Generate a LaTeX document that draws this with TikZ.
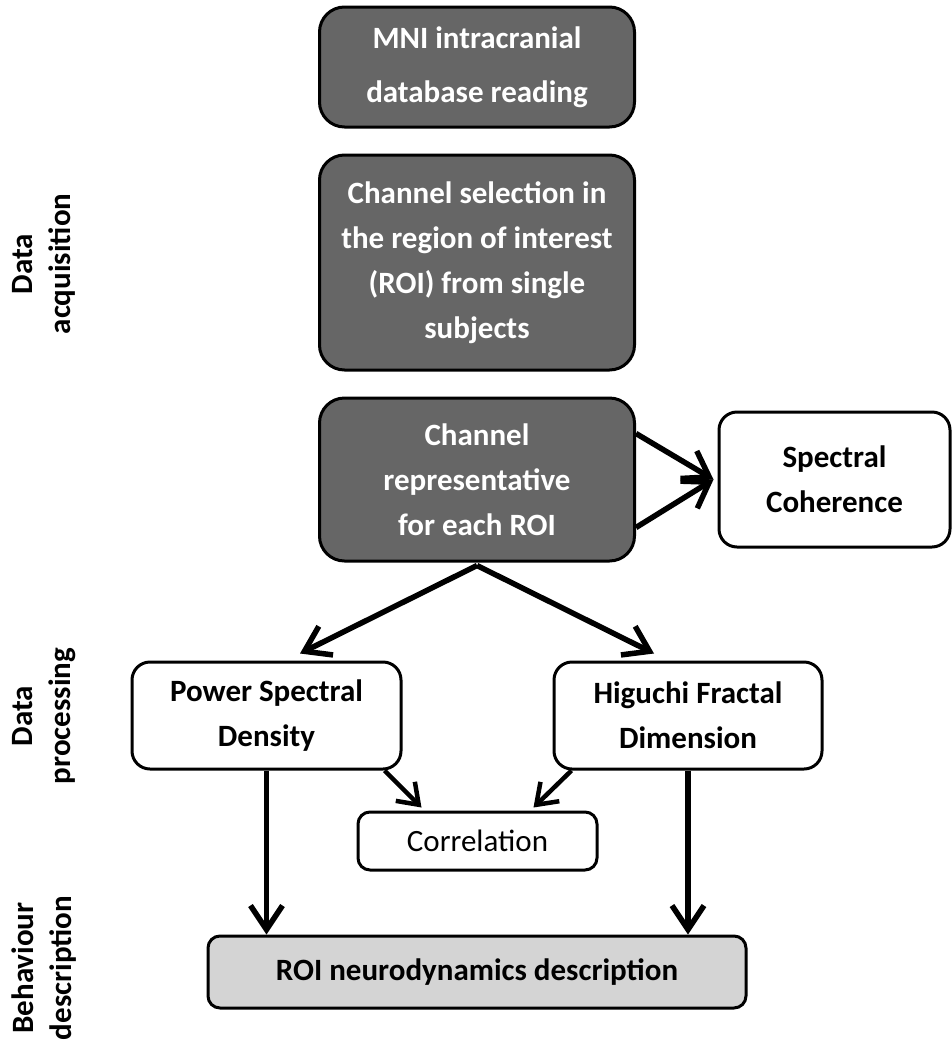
\documentclass[tikz,border=0pt]{standalone}
\usepackage{fontspec}
\setmainfont{Carlito}
\usetikzlibrary{arrows.meta}
\definecolor{darkfill}{RGB}{102,102,102}
\definecolor{lightfill}{RGB}{212,212,212}
\tikzset{
  base/.style={draw=black, line width=3pt, align=center, inner sep=0pt},
  darkbox/.style={base, fill=darkfill, text=white, rounded corners=25pt,
    font=\fontsize{31}{45}\selectfont\bfseries, minimum width=315pt},
  whitebox/.style={base, fill=white, rounded corners=18pt,
    font=\fontsize{31}{45}\selectfont\bfseries},
  lbl/.style={rotate=90, align=center, font=\fontsize{31}{38}\selectfont\bfseries},
  arr/.style={line width=5.5pt, -{Straight Barb[length=24pt,width=32pt,line width=5.5pt]}},
  sarr/.style={line width=4.5pt, -{Straight Barb[length=19pt,width=27pt,line width=4.5pt]}}
}
\begin{document}
\begin{tikzpicture}[x=1pt,y=-1pt]
\useasboundingbox (0,0) rectangle (951,1050);
% boxes
\node[darkbox, minimum height=120pt] (b1) at (477,67) {MNI intracranial\\[9pt]database reading};
\node[darkbox, minimum height=215pt] (b2) at (477,262.5) {Channel selection in\\the region of interest\\(ROI) from single\\subjects};
\node[darkbox, minimum height=163pt] (b3) at (477,479.5) {Channel\\representative\\for each ROI};
\node[whitebox, minimum width=231pt, minimum height=135pt] (sc) at (834.5,479.5) {Spectral\\Coherence};
\node[whitebox, minimum width=269pt, minimum height=107pt] (psd) at (266.5,715.5) {Power Spectral\\Density};
\node[whitebox, minimum width=268pt, minimum height=107pt] (hfd) at (688,715.5) {Higuchi Fractal\\Dimension};
\node[base, fill=white, rounded corners=12pt, minimum width=239pt, minimum height=58pt,
  font=\fontsize{31}{45}\selectfont] (corr) at (477.5,841) {Correlation};
\node[base, fill=lightfill, rounded corners=12pt, minimum width=538pt, minimum height=72pt,
  font=\fontsize{31}{45}\selectfont\bfseries] (roi) at (477,972) {ROI neurodynamics description};
% side labels
\node[lbl] (la) at (44,264) {Data\\acquisition};
\node[lbl] (lp) at (44,716) {Data\\processing};
\node[lbl] (lb) at (44,968) {Behaviour\\description};
% connectors
\coordinate (sctip) at ([xshift=-4pt]sc.west);
\draw[arr] ([yshift=46pt]b3.east) -- (sctip);
\draw[arr] ([yshift=-48pt]b3.east) -- (sctip);
\coordinate (apex) at ([yshift=-3pt]b3.south);
\draw[arr] (apex) -- ([xshift=33.5pt,yshift=7pt]psd.north);
\draw[arr] (apex) -- ([xshift=-34pt,yshift=7pt]hfd.north);
\draw[sarr] ([xshift=-18pt]psd.south east) -- ([xshift=65pt,yshift=3pt]corr.north west);
\draw[sarr] ([xshift=19pt]hfd.south west) -- ([xshift=-65pt,yshift=3pt]corr.north east);
\draw[arr] (psd.south) -- (psd.south |- roi.north);
\draw[arr] (hfd.south) -- (hfd.south |- roi.north);
\end{tikzpicture}
\end{document}
